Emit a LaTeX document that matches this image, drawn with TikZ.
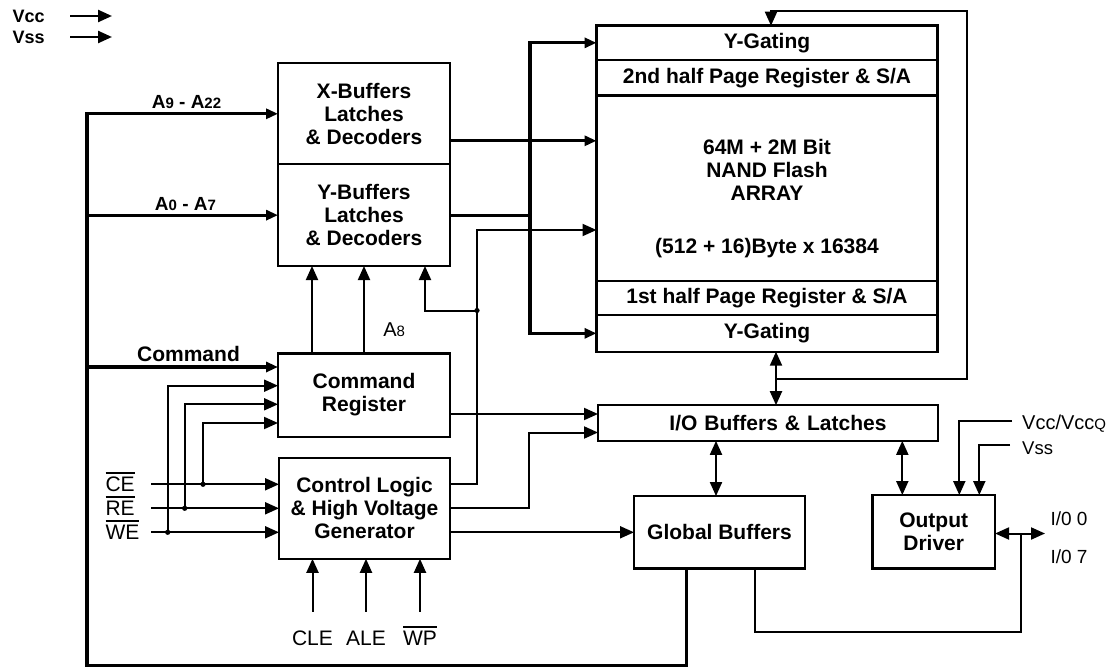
\documentclass[tikz,border=0pt]{standalone}
\usepackage{fontspec}
\setmainfont{Liberation Sans}
\usetikzlibrary{positioning, arrows.meta}

\newcommand{\notsig}[1]{\vbox{\hrule height 1.6pt\kern 3.5pt\hbox{#1}}}
\newcommand{\lowidx}[1]{{\fontsize{13}{13}\selectfont #1}}
\newcommand{\busidx}[1]{{\fontsize{15}{15}\selectfont #1}}

\begin{document}
\begin{tikzpicture}[
    x=1pt, y=-1pt,
    every node/.style={font=\fontsize{21}{23}\selectfont},
    block/.style={
        rectangle,
        draw,
        line width=2.4pt,
        align=center,
        inner sep=0pt,
        outer sep=0pt,
        font=\fontsize{21}{23}\selectfont\bfseries
    },
    section/.style={block, minimum width=341pt},
    tag/.style={font=\fontsize{21}{23}\selectfont\bfseries},
    bustag/.style={font=\fontsize{19}{19}\selectfont\bfseries},
    pinlbl/.style={font=\fontsize{19}{19}\selectfont},
    wire/.style={line width=2pt},
    bus/.style={line width=3.2pt},
    arrow/.style={wire, -{Triangle[length=14pt, width=12pt]}},
    busarrow/.style={bus, -{Triangle[length=12pt, width=10pt]}},
    twoway/.style={wire, {Triangle[length=14pt, width=12pt]}-{Triangle[length=14pt, width=12pt]}}
]

\useasboundingbox (0,0) rectangle (1118,668);

% supply pins
\node[anchor=west, font=\fontsize{18}{18}\selectfont\bfseries] (vcc) at (9,16) {Vcc};
\node[anchor=west, font=\fontsize{18}{18}\selectfont\bfseries] (vss) at (9,37) {Vss};
\coordinate (vccend) at (112,16);
\coordinate (vssend) at (112,37);
\draw[arrow, line width=2.4pt] (vcc.east -| 70,0) -- (vccend);
\draw[arrow, line width=2.4pt] (vss.east -| 70,0) -- (vssend);

% address and command blocks
\node[block, minimum width=172pt, minimum height=101pt] (xbuf) at (364,113.8) {X-Buffers\\Latches\\\& Decoders};
\node[block, minimum width=172pt, minimum height=101.7pt, below=0pt of xbuf] (ybuf) {Y-Buffers\\Latches\\\& Decoders};
\node[block, minimum width=172pt, minimum height=83.4pt] (cmdreg) at (364,395) {Command\\Register};
\node[block, minimum width=171pt, minimum height=101pt] (ctrl) at (364.5,508.3) {Control Logic\\\& High Voltage\\Generator};

% memory array
\node[section, minimum height=34.3pt] (ygtop) at (767,42.85) {Y-Gating};
\node[section, minimum height=35.7pt, below=0pt of ygtop] (page2) {2nd half Page Register \& S/A};
\node[section, minimum height=185pt, below=0pt of page2] (cells) {};
\node[section, minimum height=34.3pt, below=0pt of cells] (page1) {1st half Page Register \& S/A};
\node[section, minimum height=36.7pt, below=0pt of page1] (ygbot) {Y-Gating};
\node[tag, align=center] (celltext) at (767,198.5) {64M + 2M Bit\\NAND Flash\\ARRAY\\[30pt](512 + 16)Byte x 16384};

% data path
\node[block, minimum width=340pt, minimum height=35.7pt, text width=237pt, align=right] (iobuf) at (768,423) {I/O Buffers \& Latches};
\node[block, minimum width=171pt, minimum height=72.5pt] (gbuf) at (719.5,532.3) {Global Buffers};
\node[block, minimum width=122.7pt, minimum height=73.3pt] (outdrv) at (933.7,531.7) {Output\\Driver};

% control signals
\node[anchor=west] (ce) at (102,482) {\notsig{CE}};
\node[anchor=west] (re) at (102,506) {\notsig{RE}};
\node[anchor=west] (we) at (102,530) {\notsig{WE}};
\coordinate (ctlce) at ([yshift=24pt]ctrl.west);
\coordinate (ctlre) at (ctrl.west);
\coordinate (ctlwe) at ([yshift=-24pt]ctrl.west);
\coordinate (sigx) at (151,0);
\draw[arrow] (sigx |- ctlce) -- (ctlce);
\draw[arrow] (sigx |- ctlre) -- (ctlre);
\draw[arrow] (sigx |- ctlwe) -- (ctlwe);

\coordinate (cmd1) at ([yshift=28pt]cmdreg.west);
\coordinate (cmd2) at ([yshift=9.3pt]cmdreg.west);
\coordinate (cmd3) at ([yshift=-9.3pt]cmdreg.west);
\coordinate (cmd4) at ([yshift=-28pt]cmdreg.west);
\coordinate (tapwe) at (ctlwe -| 167.7,0);
\coordinate (tapre) at (ctlre -| 184.7,0);
\coordinate (tapce) at (ctlce -| 203,0);
\draw[arrow] (tapwe) |- (cmd2);
\draw[arrow] (tapre) |- (cmd3);
\draw[arrow] (tapce) |- (cmd4);
\fill (tapwe) circle (2.6pt);
\fill (tapre) circle (2.6pt);
\fill (tapce) circle (2.6pt);

\node (cle) at (312.5,638.3) {CLE};
\node (ale) at (366,638.3) {ALE};
\node (wp) at (420,635.8) {\notsig{WP}};
\coordinate (pinrow) at (0,611.7);
\draw[arrow] (cle |- pinrow) -- (cle |- ctrl.south);
\draw[arrow] (ale |- pinrow) -- (ale |- ctrl.south);
\draw[arrow] (wp |- pinrow) -- (wp |- ctrl.south);

% address bus fed back from the global buffers
\coordinate (busleft) at (87,665.5);
\coordinate (gbdown) at ([xshift=-33pt]gbuf.south);
\draw[busarrow] (gbdown) |- (busleft) |- (xbuf.west) node[bustag, pos=0.75, above, xshift=4pt] {A\busidx{9} - A\busidx{22}};
\draw[busarrow] (busleft |- ybuf.west) -- (ybuf.west) node[bustag, midway, above, xshift=3pt] {A\busidx{0} - A\busidx{7}};
\draw[busarrow] (busleft |- cmd1) -- (cmd1) node[tag, midway, above, xshift=6pt] {Command};

% command register to Y decoders
\coordinate (cmdup) at ([xshift=-52pt]cmdreg.north);
\draw[arrow] (cmdup) -- (cmdup |- ybuf.south);
\draw[arrow] (cmdreg.north) -- (ybuf.south) node[pos=0.27, right=15pt, font=\fontsize{20}{20}\selectfont] {A\busidx{8}};

% control logic outputs
\coordinate (ctlriser) at (477,230);
\draw[arrow] ([yshift=24pt]ctrl.east) -| (ctlriser) -- (ctlriser -| cells.west);
\coordinate (a8tap) at (477,310.5);
\coordinate (a8in) at ([xshift=61pt]ybuf.south);
\draw[arrow] (a8tap) -| (a8in);
\fill (a8tap) circle (2.6pt);

\coordinate (iohigh) at ([yshift=9pt]iobuf.west);
\coordinate (iolow) at ([yshift=-9.5pt]iobuf.west);
\coordinate (ioriser) at (529,0);
\draw[arrow] (cmdreg.east |- iohigh) -- (iohigh);
\draw[arrow] (ctrl.east) -| (ioriser |- iolow) -- (iolow);
\draw[arrow] (ctrl.east |- gbuf.west) -- (gbuf.west);

% decoders into the array
\coordinate (ybus) at (530,0);
\coordinate (xout) at ([yshift=-27pt]xbuf.east);
\draw[busarrow] (xout) -- (xout -| cells.west);
\draw[bus] (ybuf.east) -- (ybus |- ybuf.east);
\draw[busarrow] (ybus |- ybuf.east) |- (ygtop.west);
\draw[busarrow] (ybus |- ybuf.east) |- (ygbot.west);

% page buffer and feedback loop
\coordinate (iogate) at ([xshift=8pt]iobuf.north);
\coordinate (fbright) at (967,379);
\coordinate (fbtop) at (771,11);
\draw[twoway] (iogate |- ygbot.south) -- (iogate);
\draw[arrow] (iogate |- fbright) -- (fbright) |- (fbtop) -- (fbtop |- ygtop.north);

\coordinate (gbtop) at ([xshift=-3.5pt]gbuf.north);
\coordinate (odtop) at ([xshift=-31.4pt]outdrv.north);
\draw[twoway] (gbtop) -- (gbtop |- iobuf.south);
\draw[twoway] (odtop) -- (odtop |- iobuf.south);

% output driver supplies and pins
\node[anchor=west, inner xsep=0pt, font=\fontsize{20}{20}\selectfont] (vccq) at (1022,424) {Vcc/Vcc\busidx{Q}};
\node[anchor=west, inner xsep=0pt, font=\fontsize{18.5}{19}\selectfont] (vssq) at (1022,448) {Vss};
\coordinate (vccqin) at ([xshift=25.6pt]outdrv.north);
\coordinate (vssin) at ([xshift=45.6pt]outdrv.north);
\draw[arrow] ([xshift=-10pt, yshift=3pt]vccq.west) -| (vccqin);
\draw[arrow] ([xshift=-12pt, yshift=3pt]vssq.west) -| (vssin);

\coordinate (ioend) at (1045,533.5);
\draw[twoway] (outdrv.east |- ioend) -- (ioend);
\node[pinlbl, anchor=west] (io0) at (1047,519) {I/0 0};
\node[pinlbl, anchor=west] (io7) at (1047,556.6) {I/0 7};
\coordinate (iotap) at (1021,533.5);
\coordinate (gbret) at ([xshift=35.5pt]gbuf.south);
\draw[wire] (iotap) |- (gbret |- 0,632) -- (gbret);

\end{tikzpicture}
\end{document}
